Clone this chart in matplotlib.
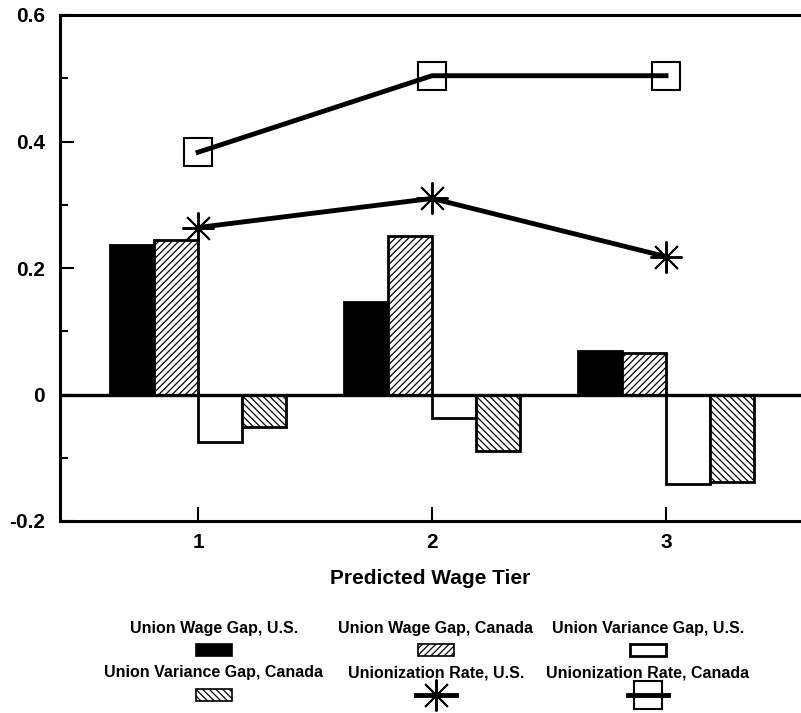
import numpy as np
import matplotlib
matplotlib.use("Agg")
import matplotlib.pyplot as plt
from matplotlib.patches import Rectangle
from matplotlib.lines import Line2D

plt.rcParams["font.family"] = ["Liberation Sans", "DejaVu Sans"]
plt.rcParams["hatch.linewidth"] = 0.9

tiers = [1, 2, 3]
tier_labels = ["1", "2", "3"]
wage_gap_us = [0.236, 0.146, 0.068]
wage_gap_ca = [0.244, 0.250, 0.065]
var_gap_us = [-0.075, -0.037, -0.142]
var_gap_ca = [-0.052, -0.089, -0.138]
union_rate_us = [0.264, 0.310, 0.218]
union_rate_ca = [0.383, 0.504, 0.504]

fig = plt.figure(figsize=(8.01, 7.13), dpi=100, facecolor="white")
ax = fig.add_axes([60 / 801, 1 - 521 / 713, 741 / 801, 506 / 713])

x = np.array(tiers, dtype=float)
w = 0.188
hatch_fw = "/////"
hatch_bk = "\\\\\\\\\\"
bar_kw = dict(width=w, edgecolor="black", linewidth=2, zorder=2)
ax.bar(x - 1.5 * w, wage_gap_us, color="black", **bar_kw)
ax.bar(x - 0.5 * w, wage_gap_ca, color="white", hatch=hatch_fw, **bar_kw)
ax.bar(x + 0.5 * w, var_gap_us, color="white", **bar_kw)
ax.bar(x + 1.5 * w, var_gap_ca, color="white", hatch=hatch_bk, **bar_kw)

ax.axhline(0, color="black", linewidth=2.4, zorder=3)

ax.plot(x, union_rate_us, color="black", linewidth=3.5, marker=(8, 2, 0),
        markersize=23, markeredgewidth=1.4, zorder=4)
ax.plot(x, union_rate_ca, color="black", linewidth=3.5, marker="s",
        markersize=20, markerfacecolor="none", markeredgewidth=1.5, zorder=4)

ax.set_xlim(0.41, 3.577)
ax.set_ylim(-0.2, 0.6)
ax.set_xticks(x)
ax.set_xticklabels(tier_labels)
ax.set_yticks([-0.2, 0, 0.2, 0.4, 0.6])
ax.set_yticklabels(["-0.2", "0", "0.2", "0.4", "0.6"])
ax.set_yticks([-0.1, 0.1, 0.3, 0.5], minor=True)
ax.tick_params(axis="both", which="major", direction="in", length=10,
               width=1.5, labelsize=15)
ax.tick_params(axis="y", which="minor", direction="in", length=6, width=1.5)
ax.tick_params(axis="y", pad=11)
ax.tick_params(axis="x", pad=9)
for lab in ax.get_xticklabels() + ax.get_yticklabels():
    lab.set_fontweight("bold")

ax.set_xlabel("Predicted Wage Tier", fontsize=15, fontweight="bold", labelpad=12)

ax.spines["right"].set_visible(False)
for s in ["top", "left", "bottom"]:
    ax.spines[s].set_linewidth(2.2)

# legend: label text above each symbol, drawn in figure pixel space
lg = fig.add_axes([0, 0, 1, 1], zorder=-1)
lg.set_xlim(0, 801)
lg.set_ylim(713, 0)
lg.axis("off")

col_x = [214, 436, 648]
names = ["Union Wage Gap, U.S.", "Union Wage Gap, Canada", "Union Variance Gap, U.S.",
         "Union Variance Gap, Canada", "Unionization Rate, U.S.", "Unionization Rate, Canada"]
text_y = [629, 673]
sym_y = [650, 695]
for i, name in enumerate(names):
    cx = col_x[i % 3]
    lg.text(cx, text_y[i // 3], name, ha="center", va="center",
            fontsize=11.5, fontweight="bold")

rw, rh = 36, 12
lg.add_patch(Rectangle((col_x[0] - rw / 2, sym_y[0] - rh / 2), rw, rh,
                       facecolor="black", edgecolor="black", linewidth=1.2))
lg.add_patch(Rectangle((col_x[1] - rw / 2, sym_y[0] - rh / 2), rw, rh,
                       facecolor="white", edgecolor="black", hatch=hatch_fw, linewidth=1.2))
lg.add_patch(Rectangle((col_x[2] - rw / 2, sym_y[0] - rh / 2), rw, rh,
                       facecolor="white", edgecolor="black", linewidth=2))
lg.add_patch(Rectangle((col_x[0] - rw / 2, sym_y[1] - rh / 2), rw, rh,
                       facecolor="white", edgecolor="black", hatch=hatch_bk, linewidth=1.2))
lg.add_line(Line2D([col_x[1] - 20, col_x[1] + 20], [sym_y[1], sym_y[1]],
                   color="black", linewidth=3.5))
lg.add_line(Line2D([col_x[1]], [sym_y[1]], marker=(8, 2, 0), markersize=23,
                   markeredgewidth=1.4, color="black"))
lg.add_line(Line2D([col_x[2] - 20, col_x[2] + 20], [sym_y[1], sym_y[1]],
                   color="black", linewidth=3.5))
lg.add_line(Line2D([col_x[2]], [sym_y[1]], marker="s", markersize=20,
                   markerfacecolor="none", markeredgewidth=1.5, color="black"))

fig.savefig("out.png", dpi=100, facecolor="white")
